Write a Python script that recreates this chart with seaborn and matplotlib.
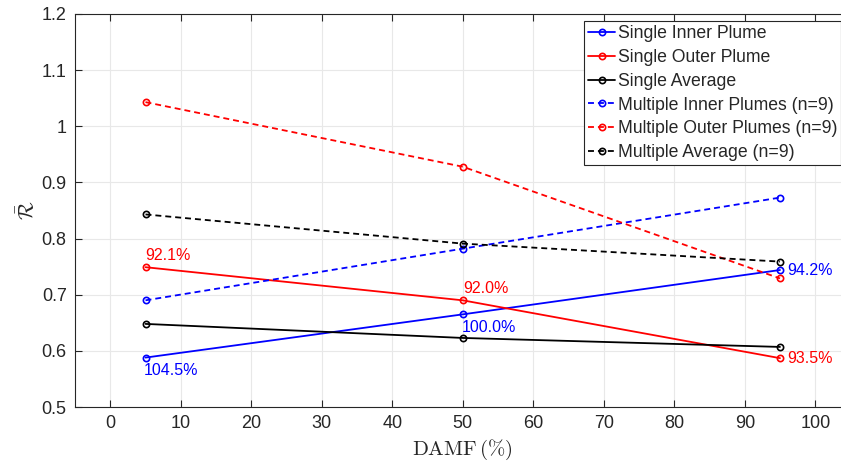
import matplotlib
matplotlib.use("Agg")
import matplotlib.pyplot as plt
import seaborn as sns
import pandas as pd

# DAMF levels (%) and mean ratio values for each configuration
damf = [5, 50, 95]
single_inner = [0.588, 0.665, 0.744]
single_outer = [0.749, 0.690, 0.587]
single_avg = [0.648, 0.623, 0.607]
multi_inner = [0.690, 0.782, 0.873]
multi_outer = [1.043, 0.928, 0.729]
multi_avg = [0.843, 0.791, 0.759]

series_names = [
    "Single Inner Plume",
    "Single Outer Plume",
    "Single Average",
    "Multiple Inner Plumes (n=9)",
    "Multiple Outer Plumes (n=9)",
    "Multiple Average (n=9)",
]

# Percentage labels attached to the single-plume points
inner_pct = ["104.5%", "100.0%", "94.2%"]
outer_pct = ["92.1%", "92.0%", "93.5%"]

xticks = [0, 10, 20, 30, 40, 50, 60, 70, 80, 90, 100]
yticks = [0.5, 0.6, 0.7, 0.8, 0.9, 1.0, 1.1, 1.2]
ytick_labels = ["0.5", "0.6", "0.7", "0.8", "0.9", "1", "1.1", "1.2"]

sns.set_theme(style="whitegrid")
plt.rcParams["font.family"] = ["Liberation Sans", "DejaVu Sans"]
plt.rcParams["mathtext.fontset"] = "cm"

fig = plt.figure(figsize=(8.41, 4.65), dpi=100)
ax = fig.add_axes([75 / 841, 58 / 465, 775.5 / 841, 393 / 465])

values = [single_inner, single_outer, single_avg, multi_inner, multi_outer, multi_avg]
colors = ["#0000ff", "#ff0000", "#000000", "#0000ff", "#ff0000", "#000000"]
dashed = [False, False, False, True, True, True]

for name, vals, col, dsh in zip(series_names, values, colors, dashed):
    df = pd.DataFrame({"DAMF": damf, "R": vals})
    kw = dict(dashes=(3.3, 2.2)) if dsh else {}
    sns.lineplot(data=df, x="DAMF", y="R", ax=ax, color=col, lw=1.3,
                 marker="o", markersize=4.5, markerfacecolor="none",
                 markeredgecolor=col, markeredgewidth=1.2, label=name,
                 **kw)

# Percentage annotations
txt_kw = dict(fontsize=11.5)
ax.annotate(inner_pct[0], (damf[0], single_inner[0]), xytext=(-1, -4),
            textcoords="offset points", ha="left", va="top", color="#0000ff", **txt_kw)
ax.annotate(inner_pct[1], (damf[1], single_inner[1]), xytext=(-1, -4),
            textcoords="offset points", ha="left", va="top", color="#0000ff", **txt_kw)
ax.annotate(inner_pct[2], (damf[2], single_inner[2]), xytext=(5, 0),
            textcoords="offset points", ha="left", va="center", color="#0000ff", **txt_kw)
ax.annotate(outer_pct[0], (damf[0], single_outer[0]), xytext=(0, 3),
            textcoords="offset points", ha="left", va="bottom", color="#ff0000", **txt_kw)
ax.annotate(outer_pct[1], (damf[1], single_outer[1]), xytext=(0, 3),
            textcoords="offset points", ha="left", va="bottom", color="#ff0000", **txt_kw)
ax.annotate(outer_pct[2], (damf[2], single_outer[2]), xytext=(5, 0),
            textcoords="offset points", ha="left", va="center", color="#ff0000", **txt_kw)

ax.set_xlim(-5, 105)
ax.set_ylim(0.5, 1.2)
ax.set_xticks(xticks)
ax.set_yticks(yticks)
ax.set_yticklabels(ytick_labels)
ax.tick_params(axis="both", which="both", direction="in", length=5, width=0.8,
               color="#262626", labelsize=13, labelcolor="#262626",
               top=True, right=True, bottom=True, left=True, pad=6)
ax.grid(True, color="#e8e8e8", linewidth=0.8)
for sp in ax.spines.values():
    sp.set_color("#262626")
    sp.set_linewidth(0.8)

ax.set_xlabel(r"$\mathrm{DAMF}\,(\%)$", fontsize=15, color="#262626", labelpad=4)
ax.set_ylabel(r"$\bar{\mathcal{R}}$", fontsize=15, color="#262626", labelpad=2)

leg = ax.legend(loc="upper left", bbox_to_anchor=(584 / 841, 1 - 21 / 465),
                bbox_transform=fig.transFigure, fontsize=12.7, frameon=True,
                fancybox=False, edgecolor="#262626", framealpha=1,
                handlelength=1.5, handletextpad=0.15, borderpad=0.25,
                labelspacing=0.38, borderaxespad=0)
leg.get_frame().set_linewidth(0.8)

fig.savefig("out.png", dpi=100)
